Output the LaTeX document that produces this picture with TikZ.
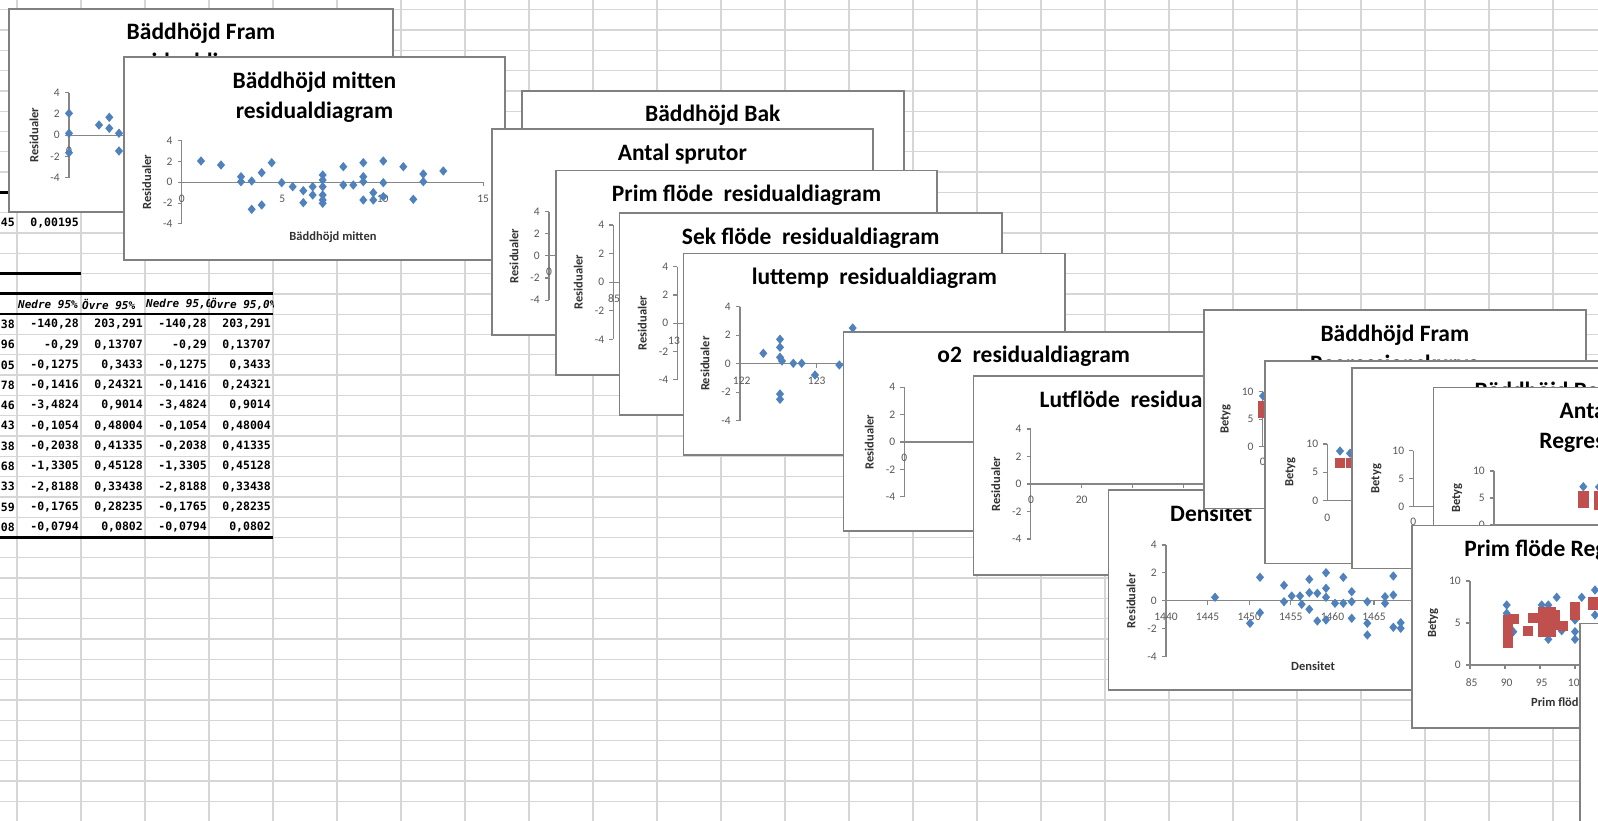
\documentclass[tikz,border=0pt]{standalone}
\usepackage{fontspec}
\setmainfont{Carlito}
\newfontfamily\tabmono{DejaVu Sans Mono}
\definecolor{ptblue}{RGB}{79,129,189}
\definecolor{ptred}{RGB}{192,80,77}
\definecolor{boxgray}{RGB}{128,128,128}
\definecolor{axgray}{RGB}{134,134,134}
\definecolor{labgray}{RGB}{89,89,89}
\definecolor{gridgray}{RGB}{214,214,214}
\tikzset{
  gridln/.style={draw=gridgray, line width=1.3pt},
  chartbox/.style={draw=boxgray, line width=1.6pt, fill=white},
  axln/.style={draw=axgray, line width=1.1pt},
  ticklab/.style={text=labgray, font=\fontsize{11.5}{12}\selectfont, inner sep=0pt},
  axtitle/.style={text=black!80, font=\bfseries\fontsize{12.5}{13}\selectfont, inner sep=0pt},
  ctitle/.style={text=black, font=\bfseries\fontsize{23.5}{26}\selectfont, inner sep=0pt, anchor=base},
  tabtxt/.style={font=\tabmono\bfseries\fontsize{11.5}{12}\selectfont, inner sep=0pt, anchor=east},
  tabhead/.style={font=\tabmono\bfseries\itshape\fontsize{11}{12}\selectfont, inner sep=0pt, anchor=west},
  thickln/.style={line width=3pt, draw=black},
}
\newcommand\bluept[2]{\fill[ptblue] (#1,#2) +(0,-4.7) -- +(4,0) -- +(0,4.7) -- +(-4,0) -- cycle;}
\newcommand\redrect[4]{\fill[ptred] (#1,#2) rectangle (#3,#4);}
% residual axes: #1 axis x, #2 y of top tick, #3 step, #4 x-axis end, #5 name prefix
\newcommand\resaxes[5]{%
  \draw[axln] (#1,#2) -- (#1,{#2+4*#3});
  \foreach \k/\lab in {0/4,1/2,2/0,3/-2,4/-4}{%
    \draw[axln] ({#1-4},{#2+\k*#3}) -- (#1,{#2+\k*#3});
    \node[ticklab,anchor=east] (#5t\k) at ({#1-9},{#2+\k*#3}) {\lab};}
  \draw[axln] (#1,{#2+2*#3}) -- (#4,{#2+2*#3});
  \node[axtitle,rotate=90] (#5yl) at ({#1-35},{#2+2*#3}) {Residualer};
}
% regression axes: #1 axis x, #2 y of tick 10, #3 step, #4 x-axis end, #5 prefix
\newcommand\regaxes[5]{%
  \draw[axln] (#1,#2) -- (#1,{#2+2*#3});
  \foreach \k/\lab in {0/10,1/5,2/0}{%
    \draw[axln] ({#1-4},{#2+\k*#3}) -- (#1,{#2+\k*#3});
    \node[ticklab,anchor=east] (#5t\k) at ({#1-9},{#2+\k*#3}) {\lab};}
  \draw[axln] (#1,{#2+2*#3}) -- (#4,{#2+2*#3});
  \node[axtitle,rotate=90] (#5yl) at ({#1-37},{#2+#3}) {Betyg};
}
\begin{document}
\begin{tikzpicture}[x=1pt,y=-1pt]
\useasboundingbox (0,0) rectangle (1598,821);
\clip (0,0) rectangle (1598,821);
\fill[white] (0,0) rectangle (1598,821);
% spreadsheet grid
\foreach \i in {0,...,24} \draw[gridln] ({17+64*\i},0) -- ({17+64*\i},821);
\foreach \j in {-11,...,29} \draw[gridln] (0,{233+20.3*\j}) -- (1598,{233+20.3*\j});
% table borders
\draw[thickln] (0,192.4) -- (81,192.4);
\draw[thickln] (0,273.6) -- (81,273.6);
\draw[thickln] (0,293.9) -- (273,293.9);
\draw[line width=1.6pt] (0,314.2) -- (273,314.2);
\draw[thickln] (0,537.5) -- (273,537.5);
% table text
\node[tabtxt] (ta0) at (15,222.8) {45};
\node[tabtxt] (tb0) at (79,222.8) {0,00195};
\begin{scope}\clip (17,294) rectangle (81,314);
\node[tabhead] (h1) at (18,304) {Nedre 95\%};\end{scope}
\begin{scope}\clip (81,294) rectangle (145,314);
\node[tabhead] (h2) at (82,304) {Övre 95\%};\end{scope}
\begin{scope}\clip (145,294) rectangle (209,314);
\node[tabhead] (h3) at (146,304) {Nedre 95,0\%};\end{scope}
\begin{scope}\clip (209,294) rectangle (273,314);
\node[tabhead] (h4) at (210,304) {Övre 95,0\%};\end{scope}
\foreach \a/\b/\c [count=\j from 0] in {38/{-140,28}/{203,291},96/{-0,29}/{0,13707},05/{-0,1275}/{0,3433},78/{-0,1416}/{0,24321},46/{-3,4824}/{0,9014},43/{-0,1054}/{0,48004},38/{-0,2038}/{0,41335},68/{-1,3305}/{0,45128},33/{-2,8188}/{0,33438},59/{-0,1765}/{0,28235},08/{-0,0794}/{0,0802}}{%
  \node[tabtxt] (ra\j) at (15,{324.3+20.3*\j}) {\a};
  \node[tabtxt] (rb\j) at (79,{324.3+20.3*\j}) {\b};
  \node[tabtxt] (rc\j) at (143,{324.3+20.3*\j}) {\c};
  \node[tabtxt] (rd\j) at (207,{324.3+20.3*\j}) {\b};
  \node[tabtxt] (re\j) at (271,{324.3+20.3*\j}) {\c};
}
% ---- chart 1: Bäddhöjd Fram residual
\path[chartbox] (9,9) rectangle (393,212);
\node[ctitle] (c1t) at (201,40) {Bäddhöjd Fram};
\node[ctitle] (c1u) at (201,70) {residualdiagram};
\resaxes{69}{92.7}{21.25}{130}{c1}
\node[ticklab] (c1x0) at (69,151) {0};
\foreach \px/\py in {69/113.3,69/133.3,69/152.7,99/125,109.3/117.3,109.3/128.3,119/133.3,119/151} \bluept{\px}{\py}
% ---- chart 2: Bäddhöjd mitten residual
\path[chartbox] (124,57.3) rectangle (505,260);
\node[ctitle] (c2t) at (314.5,88.3) {Bäddhöjd mitten};
\node[ctitle] (c2u) at (314.5,118.3) {residualdiagram};
\resaxes{181.7}{140.7}{20.8}{483.3}{c2}
\foreach \k/\l in {0/0,1/5,2/10,3/15}{%
  \draw[axln] ({181.7+100.5*\k},182.3) -- ++(0,4);
  \node[ticklab] (c2x\k) at ({181.7+100.5*\k},199) {\l};}
\node[axtitle] (c2xl) at (333,236.7) {Bäddhöjd mitten};
\foreach \px/\py in {201/161,221/165,241/176.7,241/181.7,251.7/181,261.7/172.7,271.7/162.7,281.7/182.7,292.7/186.7,303.3/190.7,312.7/186.7,312.7/195,322.7/175,322.7/180,322.7/186.7,322.7/195,322.7/200,322.7/203.3,343.3/166.7,343.3/185,353.3/185,363.3/162.7,363.3/176.7,363.3/181.7,363.3/200,373.3/192.7,373.3/200,383.3/161,383.3/182.7,383.3/196.7,403.3/166.7,413.3/199.3,423.3/174,423.3/181.7,443.3/171,251.7/209.3,261.7/205,303.3/202.7} \bluept{\px}{\py}
% ---- chart 3: Bäddhöjd Bak
\path[chartbox] (521.7,91) rectangle (904,294);
\node[ctitle] (c3t) at (712.8,122) {Bäddhöjd Bak};
% ---- chart 4: Antal sprutor
\path[chartbox] (491.7,129.3) rectangle (873,335);
\node[ctitle] (c4t) at (682.3,160.3) {Antal sprutor};
\resaxes{549}{211.7}{22.1}{560}{c4}
\node[ticklab] (c4x0) at (549,272) {0};
% ---- chart 5: Prim flöde
\path[chartbox] (556,170.7) rectangle (937,375);
\node[ctitle] (c5t) at (746.5,201.7) {Prim flöde~ residualdiagram};
\resaxes{613.3}{225}{28.6}{625}{c5}
\node[ticklab] (c5x0) at (614,299) {85};
% ---- chart 6: Sek flöde
\path[chartbox] (619.3,213.3) rectangle (1002,415);
\node[ctitle] (c6t) at (810.7,244.3) {Sek flöde~ residualdiagram};
\resaxes{677.3}{266.7}{28.3}{690}{c6}
\node[ticklab] (c6x0) at (674,340.7) {13};
% ---- chart 7: luttemp
\path[chartbox] (683.5,253.3) rectangle (1065,455);
\node[ctitle] (c7t) at (874.3,284.3) {luttemp~ residualdiagram};
\resaxes{740}{306.7}{28.5}{850}{c7}
\draw[axln] (816.7,363.7) -- ++(0,4);
\node[ticklab] (c7x0) at (741.7,380.7) {122};
\node[ticklab] (c7x1) at (816.7,380.7) {123};
\foreach \px/\py in {763.3/353.3,780/339.3,780/347.3,780/357.3,782/361,780/394,780/399.3,793.3/363.3,801.7/363.3,815/375,839.3/365,852.7/328} \bluept{\px}{\py}
% ---- chart 8: o2
\path[chartbox] (843.3,331.7) rectangle (1224,530.7);
\node[ctitle] (c8t) at (1033.7,362.7) {o2~ residualdiagram};
\resaxes{904.3}{387.3}{27.35}{980}{c8}
\node[ticklab] (c8x0) at (904.3,458) {0};
% ---- chart 9: Lutflöde
\path[chartbox] (973.3,376) rectangle (1354,575);
\node[ctitle] (c9t) at (1163.7,407) {Lutflöde~ residualdiagram};
\resaxes{1030.7}{429}{27.5}{1210}{c9}
\foreach \k in {0,1,2,3} \draw[axln] ({1030.7+51*\k},484) -- ++(0,4);
\node[ticklab] (c9x0) at (1031,500) {0};
\node[ticklab] (c9x1) at (1081.7,500) {20};
% ---- chart 10: Densitet
\path[chartbox] (1108.3,490) rectangle (1489,690);
\node[ctitle,anchor=base west] (c10t) at (1170,521) {Densitet};
\resaxes{1166}{545}{27.9}{1420}{c10}
\foreach \k/\l in {0/1440,1/1445,2/1450,3/1455,4/1460,5/1465}{%
  \draw[axln] ({1166+41.6*\k},600.8) -- ++(0,4);
  \node[ticklab] (c10x\k) at ({1166+41.6*\k},616.5) {\l};}
\node[axtitle] (c10xl) at (1313,666) {Densitet};
\foreach \px/\py in {1215/597.3,1250/623.3,1260/577.3,1260/612.7,1284/585.3,1284/601.7,1291.7/596,1300/596,1301.7/604.3,1309.3/579.3,1309.3/592.7,1309.3/609.3,1317.3/593.3,1317.3/621,1326/572.7,1326/588.3,1326/597.3,1326/620,1335/603.3,1343.3/577.3,1343.3/603.3,1351.7/591.7,1351.7/601.7,1351.7/618.3,1367.3/601.7,1367.3/623.3,1367.3/635,1385/596.7,1385/603.3,1393.3/576,1393.3/595,1393.3/627.3,1400.7/622.7,1400.7/628.3} \bluept{\px}{\py}
% ---- chart 11: Bäddhöjd Fram Regressionskurva
\path[chartbox] (1204,310) rectangle (1585.7,508.3);
\node[ctitle] (c11t) at (1394.8,341) {Bäddhöjd Fram};
\node[ctitle] (c11u) at (1394.8,371) {Regressionskurva};
\regaxes{1262.7}{391.7}{27.5}{1280}{c11}
\node[ticklab] (c11x0) at (1262.7,461.7) {0};
\bluept{1263}{396}
\redrect{1258}{400.7}{1270}{418.3}
% ---- chart 12
\path[chartbox] (1265,361) rectangle (1646,563.3);
\regaxes{1327.3}{444}{28.3}{1360}{c12}
\node[ticklab] (c12x0) at (1327.3,517.7) {0};
\bluept{1340}{451}\bluept{1350}{453.3}
\redrect{1335}{458}{1345}{468}\redrect{1346}{458}{1356}{468}
% ---- chart 13: Bäddhöjd Bak Regressionskurva
\path[chartbox] (1351.7,367.7) rectangle (1733,568.3);
\node[ctitle] (c13t) at (1542.3,398.7) {Bäddhöjd Bak};
\regaxes{1413.3}{450.7}{28}{1440}{c13}
\node[ticklab] (c13x0) at (1413.3,521.7) {0};
% ---- chart 14: Antal sprutor Regressionskurva
\path[chartbox] (1433.5,387.5) rectangle (1815,588);
\node[ctitle] (c14t) at (1624.2,418.5) {Antal sprutor};
\node[ctitle] (c14u) at (1624.2,448.5) {Regressionskurva};
\regaxes{1494}{471}{27}{1600}{c14}
\bluept{1583.3}{486.7}\bluept{1599}{487}
\redrect{1578}{491}{1589}{508.3}\redrect{1594}{491}{1605}{510}
% ---- chart 15: Prim flöde Regressionskurva
\path[chartbox] (1411.7,525.5) rectangle (1793,727.7);
\node[ctitle] (c15t) at (1602.2,556.5) {Prim flöde Regressionskurva};
\regaxes{1470}{581}{42}{1580}{c15}
\foreach \k/\l in {0/85,1/90,2/95,3/100}{%
  \draw[axln] ({1470+35*\k},665) -- ++(0,4);
  \node[ticklab] (c15x\k) at ({1471.7+35*\k},682.7) {\l};}
\node[axtitle] (c15xl) at (1558,702.3) {Prim flöde};
\foreach \px/\py in {1506.7/605,1506.7/613.3,1513.3/631.7,1541.7/605,1548.3/605,1541.7/615,1548.3/615,1556.7/597.3,1548.3/639.3,1551.7/630.7,1561.7/630.7,1581.7/597.3,1575/620,1575/631.7,1575/639.3,1595/590,1595/615} \bluept{\px}{\py}
\redrect{1502.7}{615}{1512.7}{648.3}
\redrect{1509}{614}{1519}{624}
\redrect{1523}{626}{1533}{636}
\redrect{1528}{613}{1538}{623}
\redrect{1537}{613}{1547}{623}
\redrect{1538}{607}{1556}{637}
\redrect{1546}{610}{1560}{630}
\redrect{1558}{621}{1568}{631}
\redrect{1570}{602}{1580}{620}
\redrect{1588}{597}{1598}{610}
% ---- chart 16 (edge)
\path[chartbox] (1580,623.3) rectangle (1961,830);
\end{tikzpicture}
\end{document}
